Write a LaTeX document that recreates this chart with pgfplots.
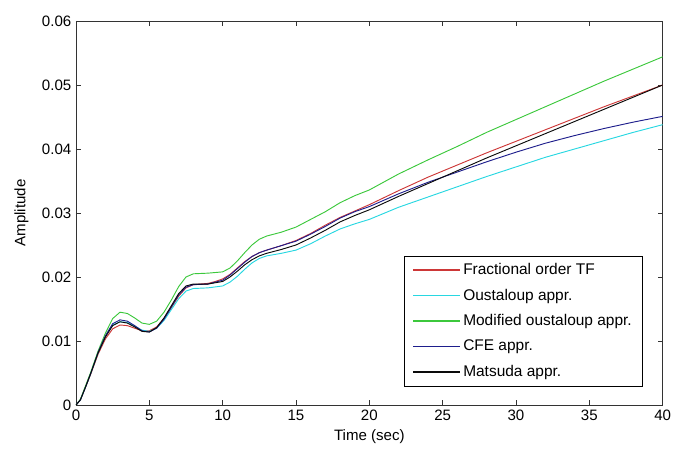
\documentclass[border=0pt]{standalone}
\usepackage{pgfplots}
\pgfplotsset{compat=1.18}
\usepackage{fontspec}
\setmainfont{Liberation Sans}
\definecolor{cred}{RGB}{205,55,55}
\definecolor{ccyan}{RGB}{40,215,225}
\definecolor{cgreen}{RGB}{60,200,60}
\definecolor{cblue}{RGB}{30,30,140}
\definecolor{cblack}{RGB}{10,10,10}
\begin{document}
\begin{tikzpicture}
\useasboundingbox (-57pt,-35.25pt) rectangle (454.5pt,303.75pt);
\begin{axis}[
  at={(0,0)}, anchor=south west,
  scale only axis, width=440pt, height=288pt,
  xmin=0, xmax=40, ymin=0, ymax=0.06,
  xtick={0,5,...,40},
  ytick={0,0.01,0.02,0.03,0.04,0.05,0.06},
  yticklabels={0,0.01,0.02,0.03,0.04,0.05,0.06},
  tick align=inside, major tick length=3.5pt,
  axis line style={draw=black!80, line width=0.6pt},
  every tick/.style={black!80, line width=0.6pt},
  font=\fontsize{11.3}{13}\selectfont,
  tick label style={font=\fontsize{11.3}{13}\selectfont},
  /pgf/number format/assume math mode=true,
  scaled y ticks=false,
  xlabel={Time (sec)}, ylabel={Amplitude},
  xlabel style={at={(axis description cs:0.5,-0.083)}, anchor=center},
  ylabel style={at={(axis description cs:-0.093,0.5)}, anchor=center},
  legend style={at={(0.966,0.049)}, anchor=south east,
    font=\fontsize{11.6}{13}\selectfont, row sep=5.3pt, inner xsep=6pt, inner ysep=3.5pt},
  legend cell align=left,
  legend image code/.code={\draw[#1,line width=1.1pt] (0pt,0pt) -- (35pt,0pt);},
  every axis plot/.append style={line width=0.7pt},
]
\addplot[draw=cred] coordinates {
(0,0) (0.3,0.0008) (0.6,0.0025) (1,0.0048) (1.5,0.0079) (2,0.0103) (2.5,0.0119) (3,0.0125) (3.5,0.0124) (4,0.0120) (4.5,0.0116) (5,0.0116) (5.5,0.0122) (6,0.0135) (6.5,0.0152) (7,0.0170) (7.5,0.0183) (8,0.0188) (8.5,0.0189) (9,0.0190) (9.5,0.0193) (10,0.0197) (10.5,0.0204) (11,0.0214) (11.5,0.0224) (12,0.0232) (12.5,0.0238) (13,0.0242) (14,0.0249) (15,0.0257) (16,0.0268) (17,0.0281) (18,0.0293) (19,0.0303) (20,0.0313) (21,0.0324) (22,0.0335) (24,0.0356) (26,0.0375) (28,0.0394) (30,0.0412) (32,0.0430) (34,0.0448) (36,0.0466) (38,0.0483) (40,0.0500)};
\addlegendentry{Fractional order TF}
\addplot[draw=ccyan] coordinates {
(0,0) (0.3,0.0008) (0.6,0.0025) (1,0.0049) (1.5,0.0081) (2,0.0107) (2.5,0.0125) (3,0.0130) (3.5,0.0129) (4,0.0123) (4.5,0.0117) (5,0.0115) (5.5,0.0120) (6,0.0132) (6.5,0.0149) (7,0.0166) (7.5,0.0178) (8,0.0182) (9,0.0183) (10,0.0186) (10.5,0.0192) (11,0.0201) (11.5,0.0212) (12,0.0222) (12.5,0.0229) (13,0.0233) (14,0.0237) (15,0.0242) (16,0.0252) (17,0.0264) (18,0.0275) (19,0.0283) (20,0.0290) (22,0.0309) (24,0.0325) (26,0.0341) (28,0.0357) (30,0.0372) (32,0.0387) (34,0.0400) (36,0.0413) (38,0.0426) (40,0.0438)};
\addlegendentry{Oustaloup appr.}
\addplot[draw=cgreen] coordinates {
(0,0) (0.3,0.0009) (0.6,0.0027) (1,0.0051) (1.5,0.0084) (2,0.0112) (2.5,0.0135) (3,0.0145) (3.5,0.0143) (4,0.0136) (4.5,0.0128) (5,0.0126) (5.5,0.0131) (6,0.0145) (6.5,0.0164) (7,0.0185) (7.5,0.0200) (8,0.0205) (9,0.0206) (10,0.0208) (10.5,0.0214) (11,0.0225) (11.5,0.0238) (12,0.0250) (12.5,0.0259) (13,0.0264) (14,0.0270) (15,0.0278) (16,0.0290) (17,0.0302) (18,0.0316) (19,0.0327) (20,0.0336) (22,0.0361) (24,0.0383) (26,0.0404) (28,0.0426) (30,0.0446) (32,0.0466) (34,0.0486) (36,0.0506) (38,0.0525) (40,0.0544)};
\addlegendentry{Modified oustaloup appr.}
\addplot[draw=cblue] coordinates {
(0,0) (0.3,0.0008) (0.6,0.0025) (1,0.0049) (1.5,0.0082) (2,0.0108) (2.5,0.0127) (3,0.0133) (3.5,0.0131) (4,0.0124) (4.5,0.0116) (5,0.0114) (5.5,0.0120) (6,0.0134) (6.5,0.0153) (7,0.0172) (7.5,0.0184) (8,0.0188) (9,0.0189) (10,0.0195) (10.5,0.0203) (11,0.0213) (11.5,0.0223) (12,0.0232) (12.5,0.0238) (13,0.0242) (14,0.0249) (15,0.0256) (16,0.0267) (17,0.0279) (18,0.0292) (19,0.0302) (20,0.0310) (22,0.0330) (24,0.0348) (26,0.0364) (28,0.0380) (30,0.0395) (32,0.0409) (34,0.0421) (36,0.0432) (38,0.0442) (40,0.0451)};
\addlegendentry{CFE appr.}
\addplot[draw=cblack] coordinates {
(0,0) (0.3,0.0008) (0.6,0.0025) (1,0.0049) (1.5,0.0081) (2,0.0106) (2.5,0.0124) (3,0.0130) (3.5,0.0128) (4,0.0122) (4.5,0.0115) (5,0.0114) (5.5,0.0121) (6,0.0136) (6.5,0.0155) (7,0.0174) (7.5,0.0186) (8,0.0189) (9,0.0189) (10,0.0193) (10.5,0.0200) (11,0.0209) (11.5,0.0219) (12,0.0227) (12.5,0.0233) (13,0.0237) (14,0.0243) (15,0.0250) (16,0.0261) (17,0.0273) (18,0.0286) (19,0.0296) (20,0.0305) (22,0.0326) (24,0.0346) (26,0.0366) (28,0.0386) (30,0.0405) (32,0.0424) (34,0.0443) (36,0.0462) (38,0.0481) (40,0.0500)};
\addlegendentry{Matsuda appr.}
\end{axis}
\end{tikzpicture}
\end{document}
